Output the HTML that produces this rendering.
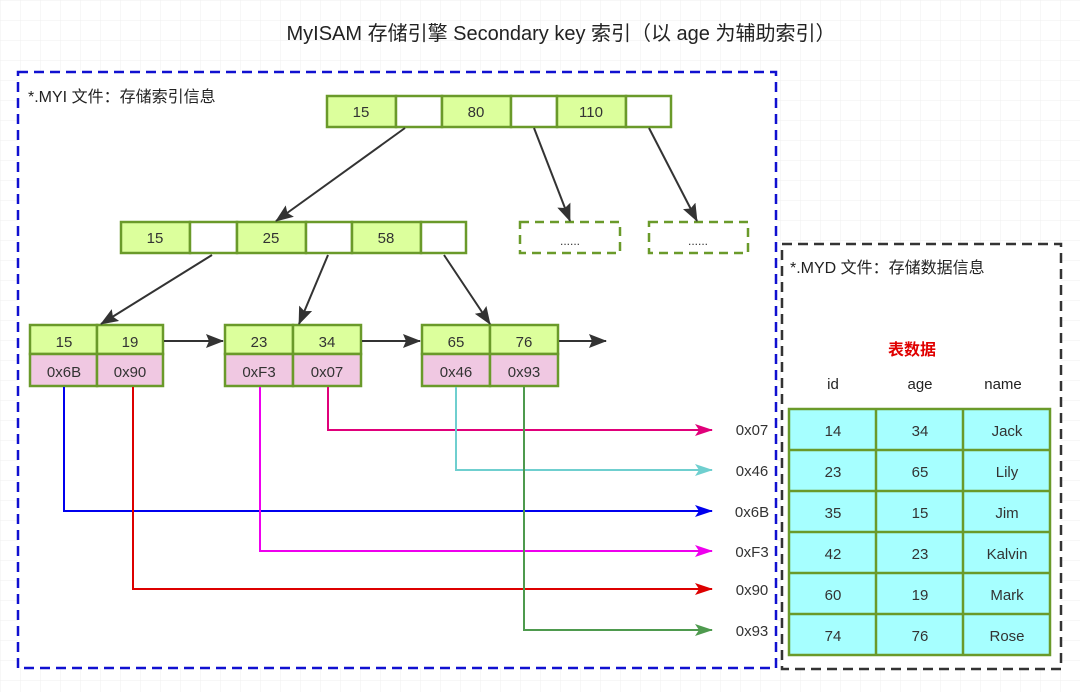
<!DOCTYPE html>
<html><head><meta charset="utf-8"><style>
html,body{margin:0;padding:0;background:#fff}
svg{display:block}
text{font-family:"Liberation Sans","Noto Sans CJK SC",sans-serif;}
</style></head><body>
<svg width="1080" height="692" xmlns="http://www.w3.org/2000/svg">
<defs>
<pattern id="g" width="20" height="20" patternUnits="userSpaceOnUse"><path d="M20 0H0V20" fill="none" stroke="#efefef" stroke-width="1"/></pattern>
<marker id="ak" markerWidth="18" markerHeight="14" refX="17" refY="7" orient="auto" markerUnits="userSpaceOnUse"><path d="M0,0 L18,7 L0,14 L3,7z" fill="#333"/></marker>
<marker id="a1" markerWidth="18" markerHeight="12" refX="17" refY="6" orient="auto" markerUnits="userSpaceOnUse"><path d="M0,0 L18,6 L0,12 L4,6z" fill="#e0007a"/></marker>
<marker id="a2" markerWidth="18" markerHeight="12" refX="17" refY="6" orient="auto" markerUnits="userSpaceOnUse"><path d="M0,0 L18,6 L0,12 L4,6z" fill="#6fcfcf"/></marker>
<marker id="a3" markerWidth="18" markerHeight="12" refX="17" refY="6" orient="auto" markerUnits="userSpaceOnUse"><path d="M0,0 L18,6 L0,12 L4,6z" fill="#0000ee"/></marker>
<marker id="a4" markerWidth="18" markerHeight="12" refX="17" refY="6" orient="auto" markerUnits="userSpaceOnUse"><path d="M0,0 L18,6 L0,12 L4,6z" fill="#ee00ee"/></marker>
<marker id="a5" markerWidth="18" markerHeight="12" refX="17" refY="6" orient="auto" markerUnits="userSpaceOnUse"><path d="M0,0 L18,6 L0,12 L4,6z" fill="#dd0000"/></marker>
<marker id="a6" markerWidth="18" markerHeight="12" refX="17" refY="6" orient="auto" markerUnits="userSpaceOnUse"><path d="M0,0 L18,6 L0,12 L4,6z" fill="#4e9a4e"/></marker>
</defs>
<rect width="1080" height="692" fill="url(#g)"/>
<text x="561" y="40" font-size="20" text-anchor="middle" fill="#222">MyISAM 存储引擎 Secondary key 索引（以 age 为辅助索引）</text>

<rect x="18" y="72" width="758" height="596" fill="#fff" stroke="#1010d0" stroke-width="2.5" stroke-dasharray="10,6"/>
<text x="28" y="102" font-size="16" fill="#222">*.MYI 文件：存储索引信息</text>
<rect x="782" y="244" width="279" height="425" fill="#fff" stroke="#333" stroke-width="2.5" stroke-dasharray="10,6"/>
<text x="790" y="273" font-size="16" fill="#222">*.MYD 文件：存储数据信息</text>

<g stroke="#6a9a2a" stroke-width="2.5" font-size="15" fill="#333">
<rect x="327" y="96" width="69" height="31" fill="#dcff9c"/><rect x="396" y="96" width="46" height="31" fill="#fff"/>
<rect x="442" y="96" width="69" height="31" fill="#dcff9c"/><rect x="511" y="96" width="46" height="31" fill="#fff"/>
<rect x="557" y="96" width="69" height="31" fill="#dcff9c"/><rect x="626" y="96" width="45" height="31" fill="#fff"/>
<rect x="121" y="222" width="69" height="31" fill="#dcff9c"/><rect x="190" y="222" width="47" height="31" fill="#fff"/>
<rect x="237" y="222" width="69" height="31" fill="#dcff9c"/><rect x="306" y="222" width="46" height="31" fill="#fff"/>
<rect x="352" y="222" width="69" height="31" fill="#dcff9c"/><rect x="421" y="222" width="45" height="31" fill="#fff"/>
<rect x="520" y="222" width="100" height="31" fill="#fff" stroke-dasharray="9,6"/>
<rect x="649" y="222" width="99" height="31" fill="#fff" stroke-dasharray="9,6"/>
<rect x="30" y="325" width="67" height="29" fill="#dcff9c"/><rect x="97" y="325" width="66" height="29" fill="#dcff9c"/>
<rect x="30" y="354" width="67" height="32" fill="#f0c8e2"/><rect x="97" y="354" width="66" height="32" fill="#f0c8e2"/>
<rect x="225" y="325" width="68" height="29" fill="#dcff9c"/><rect x="293" y="325" width="68" height="29" fill="#dcff9c"/>
<rect x="225" y="354" width="68" height="32" fill="#f0c8e2"/><rect x="293" y="354" width="68" height="32" fill="#f0c8e2"/>
<rect x="422" y="325" width="68" height="29" fill="#dcff9c"/><rect x="490" y="325" width="68" height="29" fill="#dcff9c"/>
<rect x="422" y="354" width="68" height="32" fill="#f0c8e2"/><rect x="490" y="354" width="68" height="32" fill="#f0c8e2"/>
</g>
<g font-size="15" fill="#333" text-anchor="middle">
<text x="361" y="117">15</text><text x="476" y="117">80</text><text x="591" y="117">110</text>
<text x="155" y="243">15</text><text x="271" y="243">25</text><text x="386" y="243">58</text>
<text x="570" y="245" font-size="12">......</text><text x="698" y="245" font-size="12">......</text>
<text x="64" y="347">15</text><text x="130" y="347">19</text><text x="64" y="377">0x6B</text><text x="130" y="377">0x90</text>
<text x="259" y="347">23</text><text x="327" y="347">34</text><text x="259" y="377">0xF3</text><text x="327" y="377">0x07</text>
<text x="456" y="347">65</text><text x="524" y="347">76</text><text x="456" y="377">0x46</text><text x="524" y="377">0x93</text>
</g>
<g stroke="#333" stroke-width="2" marker-end="url(#ak)" fill="none">
<line x1="405" y1="128" x2="276" y2="221"/>
<line x1="534" y1="128" x2="570" y2="221"/>
<line x1="649" y1="128" x2="697" y2="221"/>
<line x1="212" y1="255" x2="101" y2="324"/>
<line x1="328" y1="255" x2="299" y2="324"/>
<line x1="444" y1="255" x2="490" y2="324"/>
<line x1="164" y1="341" x2="223" y2="341"/>
<line x1="362" y1="341" x2="420" y2="341"/>
<line x1="559" y1="341" x2="606" y2="341"/>
</g>
<g fill="none" stroke-width="2">
<polyline points="328,387 328,430 712,430" stroke="#e0007a" marker-end="url(#a1)"/>
<polyline points="456,387 456,470 712,470" stroke="#6fcfcf" marker-end="url(#a2)"/>
<polyline points="64,387 64,511 712,511" stroke="#0000ee" marker-end="url(#a3)"/>
<polyline points="260,387 260,551 712,551" stroke="#ee00ee" marker-end="url(#a4)"/>
<polyline points="133,387 133,589 712,589" stroke="#dd0000" marker-end="url(#a5)"/>
<polyline points="524,387 524,630 712,630" stroke="#4e9a4e" marker-end="url(#a6)"/>
</g>
<g font-size="15" fill="#333" text-anchor="middle">
<text x="752" y="435">0x07</text><text x="752" y="476">0x46</text><text x="752" y="517">0x6B</text>
<text x="752" y="557">0xF3</text><text x="752" y="595">0x90</text><text x="752" y="636">0x93</text>
</g>
<text x="912" y="355" font-size="16" font-weight="bold" fill="#e00000" text-anchor="middle">表数据</text>
<g font-size="15" fill="#222" text-anchor="middle">
<text x="833" y="389">id</text><text x="920" y="389">age</text><text x="1003" y="389">name</text>
</g>
<g stroke="#6a9a2a" stroke-width="2.5" fill="#a6ffff">
<rect x="789" y="409" width="261" height="246"/>
<line x1="876" y1="409" x2="876" y2="655"/><line x1="963" y1="409" x2="963" y2="655"/>
<line x1="789" y1="450" x2="1050" y2="450"/><line x1="789" y1="491" x2="1050" y2="491"/>
<line x1="789" y1="532" x2="1050" y2="532"/><line x1="789" y1="573" x2="1050" y2="573"/>
<line x1="789" y1="614" x2="1050" y2="614"/>
</g>
<g font-size="15" fill="#333" text-anchor="middle">
<text x="833" y="436">14</text><text x="920" y="436">34</text><text x="1007" y="436">Jack</text>
<text x="833" y="477">23</text><text x="920" y="477">65</text><text x="1007" y="477">Lily</text>
<text x="833" y="518">35</text><text x="920" y="518">15</text><text x="1007" y="518">Jim</text>
<text x="833" y="559">42</text><text x="920" y="559">23</text><text x="1007" y="559">Kalvin</text>
<text x="833" y="600">60</text><text x="920" y="600">19</text><text x="1007" y="600">Mark</text>
<text x="833" y="641">74</text><text x="920" y="641">76</text><text x="1007" y="641">Rose</text>
</g>
</svg>
</body></html>
